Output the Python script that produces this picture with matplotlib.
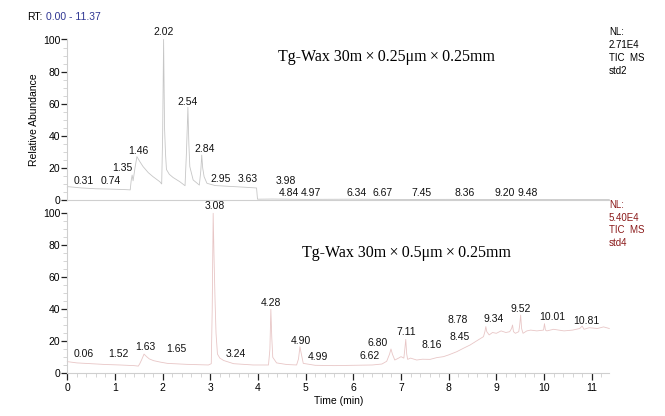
import matplotlib
matplotlib.use("Agg")
import matplotlib.pyplot as plt
from matplotlib.ticker import MultipleLocator

# std2 trace (Tg-Wax 30m x 0.25um x 0.25mm)
top_t = [0.00, 0.02, 0.30, 0.60, 0.90, 1.20, 1.32, 1.34, 1.36, 1.38, 1.42, 1.46,
         1.52, 1.59, 1.70, 1.80, 1.94, 1.98, 2.00, 2.02, 2.04, 2.06, 2.08, 2.14,
         2.22, 2.36, 2.47, 2.50, 2.53, 2.55, 2.57, 2.64, 2.77, 2.80, 2.82, 2.84,
         2.87, 2.93, 3.10, 3.40, 3.70, 3.97, 3.99, 4.30, 5.00, 6.00, 7.00, 8.00,
         9.00, 10.00, 11.37]
top_i = [8.0, 8.3, 7.5, 7.0, 6.8, 6.5, 6.3, 12.0, 15.5, 12.0, 20.0, 27.0,
         24.0, 20.8, 17.0, 14.5, 11.4, 10.0, 40.0, 100.0, 45.0, 29.0, 19.0, 16.0,
         14.0, 11.4, 8.9, 30.0, 57.7, 35.0, 20.8, 12.5, 9.3, 18.0, 28.0, 20.0,
         14.5, 10.4, 9.0, 8.5, 8.0, 7.5, 0.5, 0.6, 0.4, 0.5, 0.3, 0.4,
         0.3, 0.3, 0.3]

# std4 trace (Tg-Wax 30m x 0.5um x 0.25mm)
bot_t = [0.00, 0.20, 0.50, 0.80, 1.10, 1.40, 1.49, 1.52, 1.56, 1.61, 1.66, 1.72,
         1.81, 1.95, 2.10, 2.50, 2.96, 3.02, 3.04, 3.06, 3.08, 3.10, 3.12, 3.15,
         3.20, 3.28, 3.49, 3.90, 4.22, 4.25, 4.27, 4.29, 4.31, 4.39, 4.60, 4.81,
         4.85, 4.88, 4.91, 4.95, 5.20, 5.60, 6.00, 6.40, 6.60, 6.70, 6.76, 6.79,
         6.82, 6.87, 6.95, 7.00, 7.06, 7.08, 7.10, 7.12, 7.14, 7.20, 7.33, 7.45,
         7.61, 7.75, 7.89, 8.00, 8.17, 8.30, 8.45, 8.60, 8.73, 8.76, 8.78, 8.80,
         8.85, 8.92, 9.00, 9.10, 9.20, 9.28, 9.32, 9.34, 9.36, 9.40, 9.47, 9.49,
         9.51, 9.53, 9.56, 9.64, 9.72, 9.85, 9.99, 10.01, 10.03, 10.06, 10.20, 10.42,
         10.60, 10.75, 10.80, 10.84, 10.95, 11.12, 11.25, 11.37]
bot_i = [7.3, 6.5, 6.0, 5.5, 5.2, 4.8, 4.5, 6.0, 8.5, 12.0, 10.5, 9.0,
         7.9, 7.0, 6.2, 5.6, 5.2, 6.0, 40.0, 100.0, 70.0, 45.0, 25.0, 12.0,
         9.5, 8.0, 6.0, 5.2, 5.2, 15.0, 40.0, 22.0, 10.0, 6.5, 5.5, 5.2,
         9.0, 16.6, 12.0, 6.2, 5.0, 4.8, 5.0, 5.2, 5.8, 7.5, 12.0, 15.2,
         12.0, 8.3, 9.5, 10.4, 9.5, 15.0, 21.2, 12.0, 8.7, 9.5, 8.3, 8.8,
         8.7, 9.8, 10.4, 11.5, 13.5, 15.5, 17.7, 20.5, 22.9, 26.0, 29.2, 26.0,
         24.0, 25.5, 25.0, 26.5, 25.5, 26.0, 28.0, 30.2, 26.0, 25.0, 26.0, 30.0,
         36.4, 28.0, 25.0, 26.5, 27.0, 26.5, 27.0, 31.0, 27.0, 26.5, 27.5, 26.5,
         27.0, 28.0, 29.5, 27.5, 28.5, 28.0, 29.0, 28.0]

# peak labels: text, label x (min), label y (%)
top_labels = ["0.31", "0.74", "1.35", "1.46", "2.02", "2.54", "2.84", "2.95", "3.63",
              "3.98", "4.84", "4.97", "6.34", "6.67", "7.45", "8.36", "9.20", "9.48"]
top_lx = [0.35, 0.92, 1.15, 1.48, 2.03, 2.53, 2.89, 3.22, 3.79,
          4.59, 4.65, 5.11, 6.06, 6.62, 7.44, 8.34, 9.18, 9.66]
top_ly = [11.8, 11.8, 19.9, 30.5, 104.7, 61.1, 31.8, 13.1, 13.1,
          11.8, 4.4, 4.4, 4.4, 4.4, 4.4, 4.4, 4.4, 4.4]

bot_labels = ["0.06", "1.52", "1.63", "1.65", "3.08", "3.24", "4.28", "4.90", "4.99",
              "6.62", "6.80", "7.11", "8.16", "8.45", "8.78", "9.34", "9.52", "10.01", "10.81"]
bot_lx = [0.35, 1.08, 1.63, 2.28, 3.09, 3.54, 4.27, 4.90, 5.26,
          6.35, 6.52, 7.11, 7.65, 8.22, 8.18, 8.95, 9.51, 10.17, 10.88]
bot_ly = [11.9, 11.9, 16.2, 15.2, 104.8, 11.9, 43.7, 20.2, 10.0,
          10.8, 19.1, 25.6, 17.7, 22.9, 33.3, 33.9, 40.0, 35.0, 32.9]

XMAX = 11.37
W, H = 665, 416
SANS = "Liberation Sans"
SERIF = "Liberation Serif"
TIMES = "\u2009\u00d7\u2009"


def px(x, y):
    return x / W, 1 - y / H


def style_axis(ax, show_x):
    ax.set_xlim(0, XMAX)
    ax.set_ylim(0, 100)
    for s in ("top", "right"):
        ax.spines[s].set_visible(False)
    for s in ("left", "bottom"):
        ax.spines[s].set_color("#cfcfcf")
        ax.spines[s].set_linewidth(0.8)
    ax.yaxis.set_major_locator(MultipleLocator(20))
    ax.yaxis.set_minor_locator(MultipleLocator(5))
    ax.tick_params(axis="y", which="major", length=4, width=0.9, color="#222222",
                   labelsize=7.5, pad=1)
    ax.tick_params(axis="y", which="minor", length=3, width=0.6, color="#cfcfcf")
    if show_x:
        ax.xaxis.set_major_locator(MultipleLocator(1))
        ax.xaxis.set_minor_locator(MultipleLocator(0.2))
        ax.tick_params(axis="x", which="major", length=5, width=0.9, color="#222222",
                       labelsize=7.5, pad=2)
        ax.tick_params(axis="x", which="minor", length=3, width=0.6, color="#cfcfcf")
    else:
        ax.tick_params(axis="x", which="both", bottom=False, labelbottom=False)
    for lab in ax.get_xticklabels() + ax.get_yticklabels():
        lab.set_fontfamily(SANS)


fig = plt.figure(figsize=(W / 100, H / 100), dpi=100)
ax1 = fig.add_axes([67.3 / W, 1 - 200 / H, XMAX * 47.67 / W, 160.5 / H])
ax2 = fig.add_axes([67.3 / W, 1 - 373.3 / H, XMAX * 47.67 / W, 160 / H])

ax1.plot(top_t, top_i, color="#c6c6c6", lw=0.6, clip_on=False)
ax2.plot(bot_t, bot_i, color="#e8c6c6", lw=0.6, clip_on=False)

style_axis(ax1, False)
style_axis(ax2, True)

for txt, x, y in zip(top_labels, top_lx, top_ly):
    ax1.text(x, y, txt, ha="center", va="center", fontsize=7.5, family=SANS,
             color="#111111", clip_on=False)
for txt, x, y in zip(bot_labels, bot_lx, bot_ly):
    ax2.text(x, y, txt, ha="center", va="center", fontsize=7.5, family=SANS,
             color="#111111", clip_on=False)

ax1.set_ylabel("Relative Abundance", fontsize=7.5, family=SANS, labelpad=3)
ax2.set_xlabel("Time (min)", fontsize=7.5, family=SANS, labelpad=2)

fig.text(*px(278, 57), "Tg-Wax 30m" + TIMES + "0.25\u03bcm" + TIMES + "0.25mm",
         fontsize=11.5, family=SERIF, va="center", ha="left")
fig.text(*px(302, 253), "Tg-Wax 30m" + TIMES + "0.5\u03bcm" + TIMES + "0.25mm",
         fontsize=11.5, family=SERIF, va="center", ha="left")

fig.text(*px(27, 17), "RT:", fontsize=7.5, family=SANS, va="center")
fig.text(*px(46, 17), "0.00 - 11.37", fontsize=7.5, family=SANS, va="center",
         color="#2e3592")

for i, line in enumerate(["NL:", "2.71E4", "TIC  MS", "std2"]):
    fig.text(*px(609, 32 + 13 * i), line, fontsize=7, family=SANS, va="center")
for i, line in enumerate(["NL:", "5.40E4", "TIC  MS", "std4"]):
    fig.text(*px(609, 205 + 12.7 * i), line, fontsize=7, family=SANS, va="center",
             color="#8b1a1a")

fig.savefig("out.png", dpi=100)
